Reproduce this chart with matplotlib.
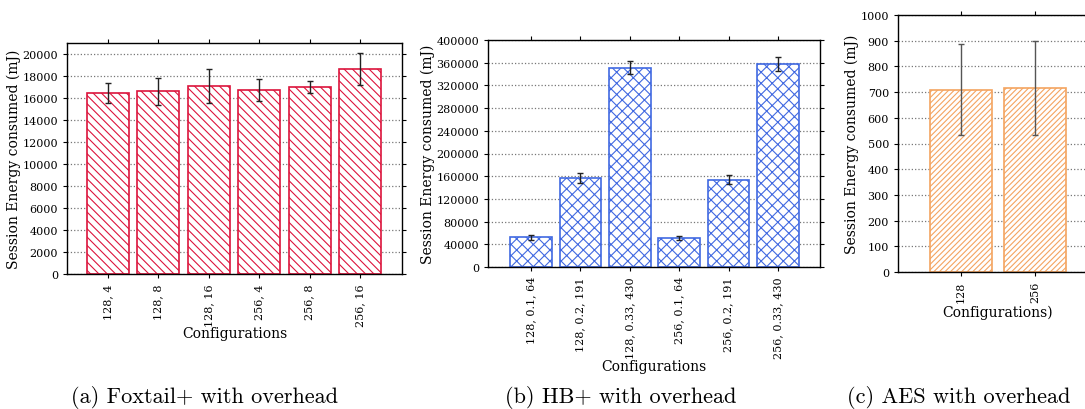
import matplotlib
matplotlib.use("Agg")
import matplotlib.pyplot as plt
from matplotlib.ticker import MultipleLocator

# (a) Foxtail+ with overhead
fox_labels = ["128, 4", "128, 8", "128, 16", "256, 4", "256, 8", "256, 16"]
fox_energy = [16450, 16630, 17090, 16750, 17000, 18660]
fox_err = [940, 1230, 1530, 1020, 550, 1460]

# (b) HB+ with overhead
hb_labels = ["128, 0.1, 64", "128, 0.2, 191", "128, 0.33, 430",
             "256, 0.1, 64", "256, 0.2, 191", "256, 0.33, 430"]
hb_energy = [52300, 156300, 351200, 50600, 153900, 357700]
hb_err = [3900, 8800, 11700, 3500, 8200, 13200]

# (c) AES with overhead
aes_labels = ["128", "256"]
aes_energy = [709, 717]
aes_err = [177, 183]

plt.rcParams['font.family'] = 'DejaVu Serif'
plt.rcParams['hatch.linewidth'] = 0.8

W, H = 1085, 410
fig = plt.figure(figsize=(W / 100, H / 100), dpi=100)


def px_axes(l, t, r, b):
    return fig.add_axes([l / W, 1 - b / H, (r - l) / W, (b - t) / H])


def style(ax, step, ymax):
    ax.set_ylim(0, ymax)
    ax.yaxis.set_major_locator(MultipleLocator(step))
    ax.tick_params(axis='both', which='major', direction='out', length=3,
                   top=True, right=True, labelsize=8)
    ax.tick_params(axis='x', labelrotation=90)
    ax.grid(axis='y', linestyle=':', color='#777777', linewidth=0.9)
    ax.set_axisbelow(True)
    ax.set_ylabel("Session Energy consumed (mJ)", fontsize=10, labelpad=1)
    for s in ax.spines.values():
        s.set_linewidth(1.0)


def draw(ax, labels, vals, errs, color, hatch, ecolor, width):
    x = range(len(labels))
    plt.rcParams['hatch.color'] = color
    ax.bar(x, vals, width=width, facecolor='white', edgecolor=color,
           hatch=hatch, linewidth=1.2, zorder=2)
    ax.errorbar(x, vals, yerr=errs, fmt='none', ecolor=ecolor,
                elinewidth=1.0, capsize=2, capthick=1.0, zorder=3)
    ax.set_xticks(list(x))
    ax.set_xticklabels(labels)


ax1 = px_axes(67, 44, 402, 275)
draw(ax1, fox_labels, fox_energy, fox_err, '#dc143c', '\\\\\\\\', '#222222', 0.83)
ax1.set_xlim(-0.81, 5.83)
style(ax1, 2000, 21000)
ax1.set_xlabel("Configurations", fontsize=10)
ax1.xaxis.set_label_coords(0.5, -0.225)

ax2 = px_axes(488, 41, 820, 268)
draw(ax2, hb_labels, hb_energy, hb_err, '#4169e1', 'xxx', '#222222', 0.84)
ax2.set_xlim(-0.87, 5.85)
style(ax2, 40000, 400000)
ax2.set_xlabel("Configurations", fontsize=10)
ax2.xaxis.set_label_coords(0.5, -0.405)

ax3 = px_axes(898, 16, 1098, 273)
draw(ax3, aes_labels, aes_energy, aes_err, '#f4a460', '//////', '#555555', 0.83)
ax3.set_xlim(-0.85, 1.85)
style(ax3, 100, 1000)
ax3.set_xlabel("Configurations)", fontsize=10)
ax3.xaxis.set_label_coords(0.5, -0.125)

cap = dict(family='cmr10', fontsize=16, ha='center', va='center')
fig.text(205 / W, 1 - 398 / H, "(a) Foxtail+ with overhead", **cap)
fig.text(621 / W, 1 - 398 / H, "(b) HB+ with overhead", **cap)
fig.text(959 / W, 1 - 398 / H, "(c) AES with overhead", **cap)

fig.savefig("out.png", dpi=100)
